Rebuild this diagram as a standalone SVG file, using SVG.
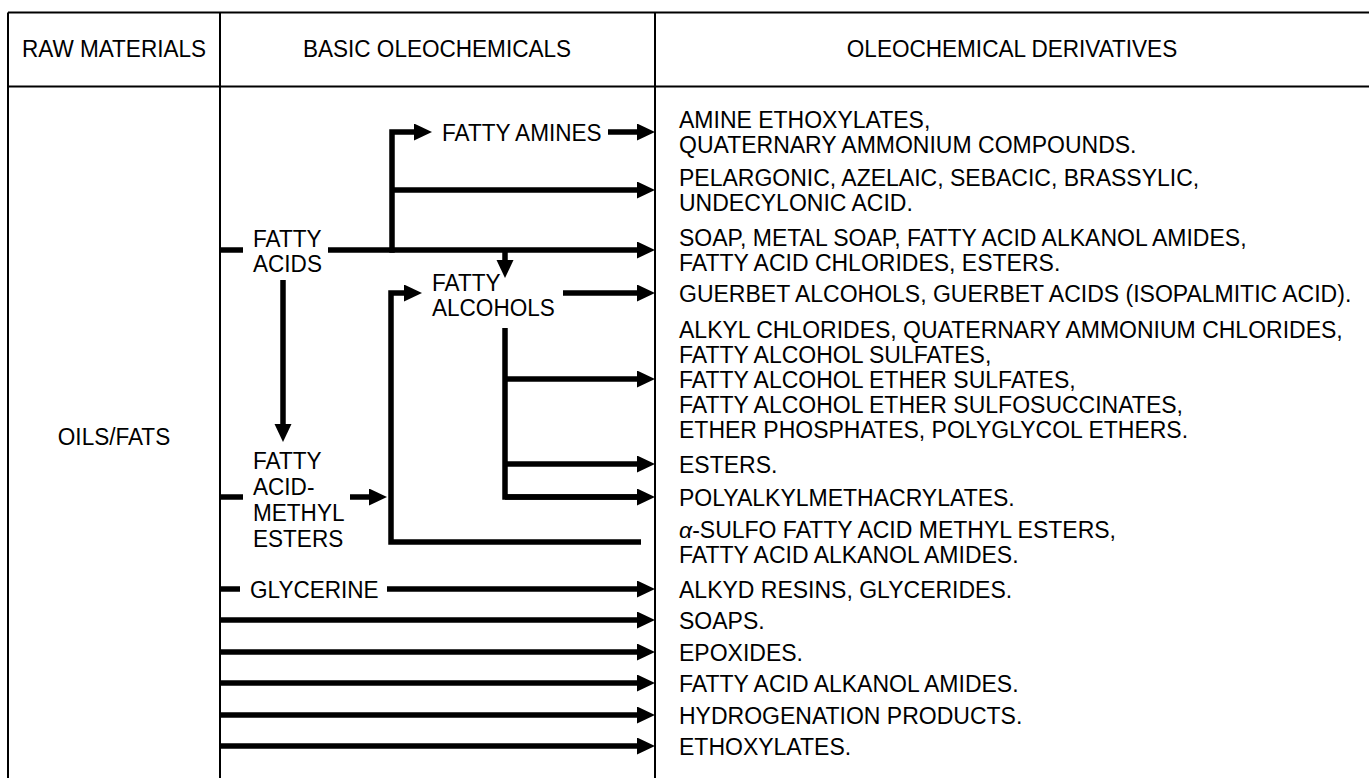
<svg xmlns="http://www.w3.org/2000/svg" width="1369" height="778" viewBox="0 0 1369 778">
<style>
.t{font-family:"Liberation Sans",Arial,sans-serif;font-size:24px;fill:#000}
.r{font-size:23px}
.m{text-anchor:middle}
.grid{stroke:#000;stroke-width:2;fill:none}
.c{stroke:#000;stroke-width:5.5;fill:none;stroke-linejoin:miter}
.ca{stroke:#000;stroke-width:5.5;fill:none;stroke-linejoin:miter;marker-end:url(#ah)}
</style>
<defs>
<marker id="ah" markerUnits="userSpaceOnUse" markerWidth="20" markerHeight="18" refX="4" refY="8.5" orient="auto">
<path d="M0,0 L18,8.5 L0,17 z" fill="#000"/>
</marker>
</defs>
<rect width="1369" height="778" fill="#fff"/>
<g id="table">
<path class="grid" d="M8,12.5 H1369 M8,86.5 H1369 M8,12.5 V778 M220,12.5 V778 M655,12.5 V778"/>
</g>
<g id="headers">
<text class="t m" transform="translate(114,57) scale(0.94,1)">RAW MATERIALS</text>
<text class="t m" transform="translate(437,57) scale(0.94,1)">BASIC OLEOCHEMICALS</text>
<text class="t m" transform="translate(1012,57) scale(0.94,1)">OLEOCHEMICAL DERIVATIVES</text>
</g>
<g id="oils-fats"><text class="t m" transform="translate(114,445) scale(0.94,1)">OILS/FATS</text></g>
<g id="fatty-acids"><g transform="translate(253,0) scale(0.94,1)"><text class="t" x="0" y="247">FATTY</text><text class="t" x="0" y="272">ACIDS</text></g></g>
<g id="fatty-amines"><text class="t" transform="translate(442,141) scale(0.94,1)">FATTY AMINES</text></g>
<g id="fatty-alcohols"><g transform="translate(432,0) scale(0.94,1)"><text class="t" x="0" y="291">FATTY</text><text class="t" x="0" y="316">ALCOHOLS</text></g></g>
<g id="fatty-acid-methyl-esters"><g transform="translate(253,0) scale(0.94,1)"><text class="t" x="0" y="469">FATTY</text><text class="t" x="0" y="495">ACID-</text><text class="t" x="0" y="521">METHYL</text><text class="t" x="0" y="547">ESTERS</text></g></g>
<g id="glycerine"><text class="t" transform="translate(250,598) scale(0.94,1)">GLYCERINE</text></g>
<g id="derivatives" transform="translate(679,0)">
<g id="d-amines"><text class="t r" x="0" y="128">AMINE ETHOXYLATES,</text><text class="t r" x="0" y="153">QUATERNARY AMMONIUM COMPOUNDS.</text></g>
<g id="d-acids"><text class="t r" x="0" y="186">PELARGONIC, AZELAIC, SEBACIC, BRASSYLIC,</text><text class="t r" x="0" y="211">UNDECYLONIC ACID.</text></g>
<g id="d-soap"><text class="t r" x="0" y="246">SOAP, METAL SOAP, FATTY ACID ALKANOL AMIDES,</text><text class="t r" x="0" y="271">FATTY ACID CHLORIDES, ESTERS.</text></g>
<g id="d-guerbet"><text class="t r" x="0" y="301.5">GUERBET ALCOHOLS, GUERBET ACIDS (ISOPALMITIC ACID).</text></g>
<g id="d-alkyl"><text class="t r" x="0" y="337.5">ALKYL CHLORIDES, QUATERNARY AMMONIUM CHLORIDES,</text><text class="t r" x="0" y="362.5">FATTY ALCOHOL SULFATES,</text><text class="t r" x="0" y="387.5">FATTY ALCOHOL ETHER SULFATES,</text><text class="t r" x="0" y="412.5">FATTY ALCOHOL ETHER SULFOSUCCINATES,</text><text class="t r" x="0" y="437.5">ETHER PHOSPHATES, POLYGLYCOL ETHERS.</text></g>
<g id="d-esters"><text class="t r" x="0" y="472.5">ESTERS.</text></g>
<g id="d-poly"><text class="t r" x="0" y="505.5">POLYALKYLMETHACRYLATES.</text></g>
<g id="d-sulfo"><text class="t r" x="0" y="538"><tspan font-style="italic">α</tspan>-SULFO FATTY ACID METHYL ESTERS,</text><text class="t r" x="0" y="563">FATTY ACID ALKANOL AMIDES.</text></g>
<g id="d-alkyd"><text class="t r" x="0" y="597.5">ALKYD RESINS, GLYCERIDES.</text></g>
<g id="d-soaps"><text class="t r" x="0" y="628.5">SOAPS.</text></g>
<g id="d-epoxides"><text class="t r" x="0" y="660.5">EPOXIDES.</text></g>
<g id="d-amides"><text class="t r" x="0" y="691.5">FATTY ACID ALKANOL AMIDES.</text></g>
<g id="d-hydro"><text class="t r" x="0" y="723.5">HYDROGENATION PRODUCTS.</text></g>
<g id="d-ethoxy"><text class="t r" x="0" y="754.5">ETHOXYLATES.</text></g>
</g>
<g id="connectors">
<path class="c" d="M220,250 H243"/>
<path class="ca" d="M328,250 H641"/>
<path class="ca" d="M392,252.75 V132 H418"/>
<path class="ca" d="M392,190 H641"/>
<path class="ca" d="M608,132 H641"/>
<path class="ca" d="M505,250 V264"/>
<path class="ca" d="M563,293 H641"/>
<path class="ca" d="M283,280 V428"/>
<path class="c" d="M220,497 H243"/>
<path class="ca" d="M350,497 H373"/>
<path class="ca" d="M641,542 H391 V293 H408"/>
<path class="c" d="M505,328 V497 H641"/>
<path class="ca" d="M505,497 H641"/>
<path class="ca" d="M505,379 H641"/>
<path class="ca" d="M505,464 H641"/>
<path class="c" d="M220,589 H240"/>
<path class="ca" d="M387,589 H641"/>
<path class="ca" d="M220,620 H641"/>
<path class="ca" d="M220,652 H641"/>
<path class="ca" d="M220,683 H641"/>
<path class="ca" d="M220,715 H641"/>
<path class="ca" d="M220,746 H641"/>
</g>
</svg>
